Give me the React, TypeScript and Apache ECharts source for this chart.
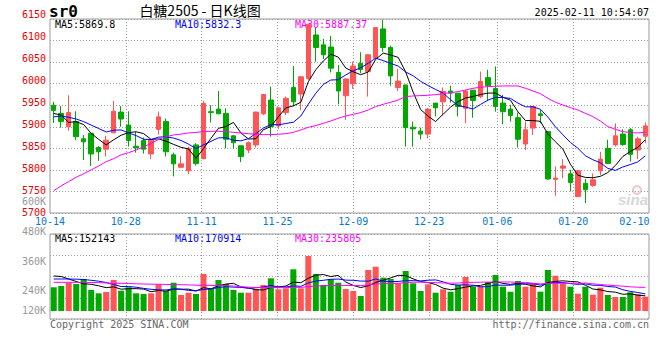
import React, { useEffect, useRef } from 'react';
import * as echarts from 'echarts';

const dates = [
  '10-14','10-15','10-16','10-17','10-18','10-21','10-22','10-23','10-24','10-25',
  '10-28','10-29','10-30','10-31','11-01','11-04','11-05','11-06','11-07','11-08',
  '11-11','11-12','11-13','11-14','11-15','11-18','11-19','11-20','11-21','11-22',
  '11-25','11-26','11-27','11-28','11-29','12-02','12-03','12-04','12-05','12-06',
  '12-09','12-10','12-11','12-12','12-13','12-16','12-17','12-18','12-19','12-20',
  '12-23','12-24','12-25','12-26','12-27','12-30','12-31','01-02','01-03',
  '01-06','01-07','01-08','01-09','01-10','01-13','01-14','01-15','01-16','01-17',
  '01-20','01-21','01-22','01-23','01-24','01-27','02-05','02-06','02-07','02-10','02-11'
];

const opens = [5950,5931,5900,5912,5872,5885,5852,5848,5886,5934,5904,5855,5868,5837,5894,5912,5835,5806,5798,5858,5826,5935,5941,5931,5879,5856,5846,5858,5930,5962,5902,5933,5991,5976,6012,6113,6090,6085,6026,5972,6000,6047,6028,6059,6127,6084,5991,5997,5899,5890,5883,5955,5958,5983,5978,5943,5985,5970,6014,5989,5955,5941,5921,5860,5897,5930,5889,5778,5804,5791,5738,5769,5764,5798,5850,5858,5883,5893,5846,5878];
const closes = [5938,5912,5933,5877,5865,5837,5842,5869,5936,5918,5868,5851,5848,5869,5923,5842,5814,5814,5850,5815,5954,5933,5930,5871,5863,5831,5863,5934,5975,5900,5944,5966,5958,6016,6138,6084,6067,6036,5983,6011,6041,6033,6067,6130,6084,6018,6006,5898,5895,5883,5941,5944,5982,5978,5947,5983,5961,6005,5995,5947,5935,5926,5871,5893,5947,5926,5779,5781,5809,5771,5798,5754,5777,5825,5815,5879,5859,5836,5872,5902];
const lows = [5909,5898,5891,5869,5823,5809,5821,5831,5885,5900,5854,5840,5838,5825,5882,5831,5785,5804,5790,5810,5825,5910,5930,5850,5850,5818,5839,5852,5927,5877,5895,5927,5947,5938,6009,6051,6057,6026,5952,5916,5988,6024,5970,6057,6074,5995,5983,5854,5854,5871,5873,5924,5927,5956,5924,5908,5921,5966,5960,5935,5906,5912,5852,5846,5881,5908,5777,5740,5781,5750,5738,5723,5761,5788,5815,5854,5856,5819,5825,5862];
const highs = [5958,5948,5973,5936,5881,5885,5855,5879,5960,5948,5936,5888,5875,5869,5935,5919,5840,5832,5854,5862,5960,5950,5983,5943,5881,5856,5866,5935,5975,5993,5944,5970,6041,6018,6138,6130,6104,6111,6043,6012,6051,6073,6068,6130,6148,6088,6034,5997,5912,5898,5944,5955,5991,5995,5978,5985,5985,6028,6032,6040,5974,5951,5933,5912,5947,5939,5889,5808,5825,5800,5800,5779,5792,5842,5870,5908,5894,5897,5877,5910];

const ma5 = [5931,5927,5910,5912,5905,5884.8,5870.8,5858,5869.8,5880.4,5886.6,5888.4,5884.2,5870.8,5871.8,5866.6,5859.2,5852.4,5848.6,5827,5849.4,5873.2,5896.4,5900.6,5910.2,5885.6,5871.6,5872.4,5893.2,5900.6,5923.2,5943.8,5948.6,5956.8,6004.4,6032.4,6052.6,6068.2,6061.6,6036.2,6027.6,6020.8,6027,6056.4,6071,6066.4,6061,6027.2,5980.2,5940,5924.6,5912.2,5929,5945.6,5958.4,5966.8,5970.2,5974.8,5978.2,5978.2,5968.6,5961.6,5934.8,5914.4,5914.4,5912.6,5883.2,5865.2,5848.4,5813.2,5787.6,5782.6,5781.8,5785,5793.8,5810,5831,5842.8,5852.2,5869.8];
const ma10 = [5923,5925,5922,5918,5912,5904,5896,5888,5892,5892.7,5885.7,5879.6,5871.1,5870.3,5876.1,5876.6,5873.8,5868.3,5859.7,5849.4,5858,5866.2,5874.4,5874.6,5868.6,5867.5,5872.4,5884.4,5896.9,5905.4,5904.4,5907.7,5910.5,5925,5952.5,5977.8,5998.2,6008.4,6009.2,6020.3,6030,6036.7,6047.6,6059,6053.6,6047,6040.9,6027.1,6018.3,6005.5,5995.5,5986.6,5978.1,5962.9,5949.2,5945.7,5941.2,5951.9,5961.9,5968.3,5967.7,5965.9,5954.8,5946.3,5946.3,5940.6,5922.4,5900,5881.4,5863.8,5850.1,5832.9,5823.5,5816.7,5803.5,5798.8,5806.8,5812.3,5818.6,5832.3];
const ma30 = [5751.6,5763,5773,5783,5791,5800,5809,5819,5826,5835,5840,5846,5854,5861,5871,5877,5881,5883,5885.7,5887,5888.8,5889.6,5889.6,5888.8,5887,5885.7,5884,5882.6,5881.8,5881.8,5882.6,5884,5887,5892.6,5898.8,5902.7,5908,5913.5,5919.7,5925,5929,5932.8,5939,5946.8,5952.2,5956.8,5962.2,5970,5971.5,5972.3,5973,5974.6,5976.9,5979.2,5981.5,5985.4,5989.3,5991.6,5993.1,5993.9,5994.7,5994.7,5994.7,5989.3,5983.1,5976.9,5966,5956.8,5950.6,5944.4,5939,5931.3,5923.6,5913.5,5900.4,5894.2,5888.8,5886.5,5885.7,5887.4];

const volumes = [237000,250000,283000,270000,320000,210000,177000,190000,310000,203000,237000,177000,170000,177000,267000,200000,283000,160000,183000,170000,370000,227000,310000,270000,210000,183000,183000,217000,260000,327000,217000,227000,417000,227000,550000,370000,260000,317000,283000,220000,200000,150000,410000,443000,333000,320000,277000,400000,277000,200000,267000,183000,217000,193000,260000,340000,243000,243000,290000,360000,243000,193000,300000,243000,277000,193000,410000,353000,277000,243000,173000,243000,163000,233000,160000,140000,140000,187000,167000,143000];
const volMa5 = [350000,345000,320000,295000,272000,266700,252000,233300,241300,218000,223300,223300,219300,192700,205400,198000,219300,217300,218700,199300,233300,222000,252000,269300,277300,240000,231300,212700,210700,234000,240700,249400,289400,282700,327400,358000,364700,344700,356000,290000,256000,234000,252700,284700,307300,331300,356700,354700,321300,294700,284000,265300,228700,212000,224000,238700,250700,256000,275300,295300,276000,266000,277300,268000,251300,241300,284700,295300,302000,295300,291300,258000,220000,211300,194600,188000,167300,172000,158700,152143];
const volMa10 = [320000,320000,320000,318000,315000,307000,298000,285000,265000,245000,245000,237700,226300,217000,211700,210700,221300,218300,205700,202300,215700,220700,234700,244000,238300,236700,226700,232300,240000,255700,240300,240300,251000,246700,280700,299400,307000,317000,319400,308700,307000,299300,298700,320300,298700,293700,295300,303700,303000,301000,307700,311000,291700,266700,259300,261300,258000,242300,243700,259700,257300,258300,266700,271700,273300,258700,275300,286300,285000,273300,266300,271300,257700,256700,245000,239700,212700,196000,185000,170914];
const volMa30 = [287000,287000,287000,286000,286000,285000,284000,280000,277000,277000,275000,272000,270000,268000,267000,266000,264000,263000,261000,258000,257000,256000,254000,252000,250000,243000,238000,236000,234000,234300,233700,232900,237300,235900,243600,248900,251700,255900,255000,255600,254300,253500,261500,270300,272600,276600,276300,284300,287500,288500,285000,283600,280500,277900,279600,284800,286800,287700,288700,289800,290700,289600,285700,286200,277100,271200,276200,277400,277200,278000,277100,280200,272000,265000,259200,253200,248700,241500,237900,235805];

const dateTickLabels = ['10-14','10-28','11-11','11-25','12-09','12-23','01-06','01-20','02-10'];
const priceLegend = ['MA5:5869.8', 'MA10:5832.3', 'MA30:5887.37'];
const volLegend = ['MA5:152143', 'MA10:170914', 'MA30:235805'];
const titleCode = 'sr0';
const titleText = '白糖2505 - 日K线图';
const timeText = '2025-02-11 10:54:07';
const copyrightText = 'Copyright 2025 SINA.COM';
const urlText = 'http://finance.sina.com.cn';

const RED = '#ff5555';
const GREEN = '#00a800';
const MONO = '"DejaVu Sans Mono", monospace';
const GRID_LINE = { type: [1, 2] as any, color: '#a0a0a0', width: 1 };
const LEFT = 50;
const WIDTH = 599;

function buildOption() {
  const candleData = opens.map((o, i) => [o, closes[i], lows[i], highs[i]]);
  const volData = volumes.map((v, i) => ({
    value: v,
    itemStyle: { color: closes[i] >= opens[i] ? RED : GREEN },
  }));
  const isTick = (_: number, v: string) => dateTickLabels.indexOf(v) >= 0;
  const isGridTick = (i: number, v: string) => i > 0 && i < dates.length - 2 && dateTickLabels.indexOf(v) >= 0;
  const labelAxisData = dates.map((d) =>
    d === dateTickLabels[dateTickLabels.length - 1]
      ? { value: d, textStyle: { padding: [0, 14, 0, 0] } }
      : d
  );
  const lineStyle = (color: string) => ({
    type: 'line' as const,
    showSymbol: false,
    symbol: 'none',
    silent: true,
    lineStyle: { color, width: 1 },
  });
  const txt = (text: string, x: number, y: number, fill: string, align = 'left', font = `10px ${MONO}`, z = 0) => ({
    type: 'text',
    x,
    y,
    z,
    silent: true,
    style: { text, fill, font, align, textAlign: align, verticalAlign: 'middle', textVerticalAlign: 'middle' },
  });
  const plain = (v: number) => String(v);
  const kilo = (v: number) => `${v / 1000}K`;

  return {
    animation: false,
    backgroundColor: '#ffffff',
    grid: [
      { left: LEFT, top: 19, width: WIDTH, height: 194, show: true, borderColor: '#999', borderWidth: 1 },
      { left: LEFT, top: 234, width: WIDTH, height: 77 },
      { left: LEFT, top: 234, width: WIDTH, height: 85, show: true, borderColor: '#999', borderWidth: 1 },
      { left: LEFT, top: 14, width: WIDTH, height: 198.5 },
      { left: LEFT, top: 201.7, width: WIDTH, height: 89 },
      { left: LEFT, top: 290.7, width: WIDTH, height: 39.6 },
    ],
    xAxis: [
      { type: 'category', gridIndex: 0, position: 'bottom', data: dates, boundaryGap: true, show: false },
      { type: 'category', gridIndex: 1, position: 'bottom', data: dates, boundaryGap: true, show: false },
      {
        type: 'category', gridIndex: 0, position: 'bottom', data: labelAxisData, boundaryGap: false,
        axisLine: { show: false }, axisTick: { show: false },
        axisLabel: { interval: isTick, color: '#0a78cc', fontFamily: MONO, fontSize: 10, margin: 3 },
        splitLine: { show: true, interval: isGridTick, lineStyle: GRID_LINE },
      },
      {
        type: 'category', gridIndex: 2, position: 'bottom', data: dates, boundaryGap: false,
        axisLine: { show: false }, axisTick: { show: false }, axisLabel: { show: false },
        splitLine: { show: true, interval: isGridTick, lineStyle: GRID_LINE },
      },
      { type: 'value', gridIndex: 3, position: 'bottom', show: false },
      { type: 'value', gridIndex: 4, position: 'bottom', show: false },
      { type: 'value', gridIndex: 5, position: 'bottom', show: false },
    ],
    yAxis: [
      {
        type: 'value', gridIndex: 0, position: 'left', min: 5700, max: 6150, interval: 50,
        axisLine: { show: false }, axisTick: { show: false }, axisLabel: { show: false },
        splitLine: { show: true, lineStyle: GRID_LINE },
      },
      { type: 'value', gridIndex: 1, position: 'left', min: 0, max: 770000, show: false, splitLine: { show: false } },
      {
        type: 'value', gridIndex: 2, position: 'left', min: 0, max: 480000, interval: 120000,
        axisLine: { show: false }, axisTick: { show: false }, axisLabel: { show: false },
        splitLine: { show: true, lineStyle: GRID_LINE },
      },
      {
        type: 'value', gridIndex: 3, position: 'left', min: 5700, max: 6150, interval: 50,
        axisLine: { show: false }, axisTick: { show: false }, splitLine: { show: false },
        axisLabel: { color: '#ee0000', fontFamily: MONO, fontSize: 10, margin: 4, formatter: plain },
      },
      {
        type: 'value', gridIndex: 4, position: 'left', min: 240000, max: 600000, interval: 120000,
        axisLine: { show: false }, axisTick: { show: false }, splitLine: { show: false },
        axisLabel: { color: '#999', fontFamily: MONO, fontSize: 10, margin: 4, formatter: kilo },
      },
      {
        type: 'value', gridIndex: 5, position: 'left', min: 0, max: 240000, interval: 120000,
        axisLine: { show: false }, axisTick: { show: false }, splitLine: { show: false },
        axisLabel: { color: '#999', fontFamily: MONO, fontSize: 10, margin: 4, showMinLabel: false, showMaxLabel: false, formatter: kilo },
      },
    ],
    series: [
      {
        type: 'candlestick', xAxisIndex: 0, yAxisIndex: 0, data: candleData, barWidth: 5, silent: true,
        itemStyle: { color: RED, color0: GREEN, borderColor: RED, borderColor0: GREEN, borderWidth: 1 },
      },
      { ...lineStyle('#000000'), xAxisIndex: 0, yAxisIndex: 0, data: ma5 },
      { ...lineStyle('#0000ff'), xAxisIndex: 0, yAxisIndex: 0, data: ma10 },
      { ...lineStyle('#ff00ff'), xAxisIndex: 0, yAxisIndex: 0, data: ma30 },
      { type: 'bar', xAxisIndex: 1, yAxisIndex: 1, data: volData, barWidth: 6, silent: true },
      { ...lineStyle('#000000'), xAxisIndex: 1, yAxisIndex: 1, data: volMa5 },
      { ...lineStyle('#0000ff'), xAxisIndex: 1, yAxisIndex: 1, data: volMa10 },
      { ...lineStyle('#ff00ff'), xAxisIndex: 1, yAxisIndex: 1, data: volMa30 },
    ],
    graphic: [
      txt(titleCode, 49, 11, '#000', 'left', `bold 16px ${MONO}`),
      txt(titleText, 200, 10, '#000', 'center', '14px "Noto Sans CJK SC", sans-serif'),
      txt(timeText, 649, 12, '#000', 'right'),
      txt(priceLegend[0], 55, 24, '#000'),
      txt(priceLegend[1], 175, 24, '#0000ff'),
      txt(priceLegend[2], 295, 24, '#ff00ff'),
      txt(volLegend[0], 55, 238, '#000'),
      txt(volLegend[1], 175, 238, '#0000ff'),
      txt(volLegend[2], 295, 238, '#ff00ff'),
      txt(copyrightText, 50, 324, '#666'),
      txt(urlText, 649, 324, '#666', 'right'),
      {
        type: 'ring', silent: true, z: 0,
        shape: { cx: 637, cy: 190, r: 5, r0: 3 },
        style: { fill: '#f2c9c9' },
      },
      txt('sina', 648, 199, '#d8d8d8', 'right', 'italic bold 15px "Liberation Sans", sans-serif'),
    ],
  };
}

export default function App() {
  const ref = useRef<HTMLDivElement>(null);
  useEffect(() => {
    if (!ref.current) return;
    const chart = echarts.init(ref.current, null, { renderer: 'svg' });
    chart.setOption(buildOption() as any);
    return () => chart.dispose();
  }, []);
  return (
    <div
      ref={ref}
      style={{ position: 'fixed', left: 0, top: 0, width: 660, height: 360, background: '#fff' }}
    />
  );
}
